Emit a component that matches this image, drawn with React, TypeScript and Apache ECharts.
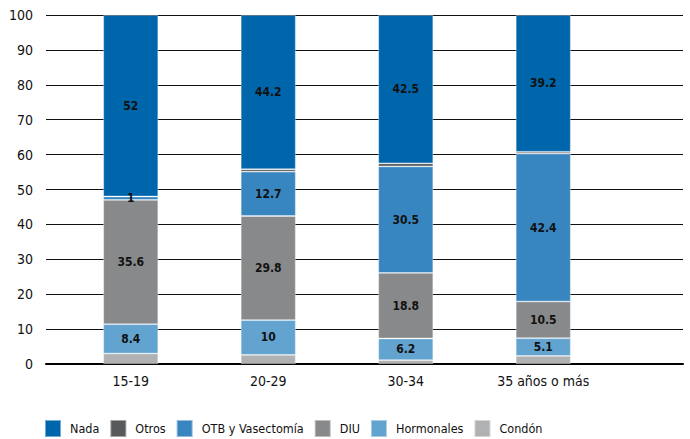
import React, { useEffect, useRef } from "react";
import * as echarts from "echarts";

const categories = ["15-19", "20-29", "30-34", "35 años o más"];
const yTicks = { min: 0, max: 100, interval: 10 };

const nada = [52, 44.2, 42.5, 39.2];
const otros = [0, 0.7, 0.9, 0.5];
const otb = [1, 12.7, 30.5, 42.4];
const diu = [35.6, 29.8, 18.8, 10.5];
const hormonales = [8.4, 10, 6.2, 5.1];
const condon = [3.0, 2.6, 1.1, 2.3];

const legendOrder = ["Nada", "Otros", "OTB y Vasectomía", "DIU", "Hormonales", "Condón"];

const FONT = "'DejaVu Sans Condensed', 'Liberation Sans Narrow', sans-serif";

export default function App() {
  const ref = useRef<HTMLDivElement>(null);

  useEffect(() => {
    if (!ref.current) return;
    const chart = echarts.init(ref.current, null, { renderer: "svg" });

    const mk = (name: string, data: number[], color: string, showLabel: boolean) => ({
      name,
      type: "bar",
      stack: "total",
      data,
      xAxisIndex: 0,
      yAxisIndex: 0,
      barWidth: 55,
      itemStyle: { color, borderColor: "rgba(255,255,255,0.45)", borderWidth: 0.8 },
      label: {
        show: showLabel,
        position: "inside",
        color: "#111",
        fontFamily: FONT,
        fontWeight: "bold",
        fontSize: 12,
        formatter: (p: any) => String(p.value),
      },
      emphasis: { disabled: true },
    });

    chart.setOption({
      animation: false,
      textStyle: { fontFamily: FONT },
      grid: [
        { left: 62, right: 78, top: 15, bottom: 75 },
        { left: 46, right: 7, top: 15, bottom: 75 },
      ],
      xAxis: [
        {
          type: "category",
          gridIndex: 0,
          data: categories,
          axisLine: { show: false },
          axisTick: { show: false },
          axisLabel: { color: "#111", fontSize: 14, fontFamily: FONT, margin: 10 },
        },
        {
          type: "value",
          gridIndex: 1,
          min: 0,
          max: 1,
          axisLine: { show: true, onZero: false, lineStyle: { color: "#000", width: 2 } },
          axisTick: { show: false },
          axisLabel: { show: false },
          splitLine: { show: false },
        },
      ],
      yAxis: [
        {
          type: "value",
          gridIndex: 0,
          ...yTicks,
          axisLine: { show: false },
          axisTick: { show: false },
          axisLabel: { show: false },
          splitLine: { show: false },
        },
        {
          type: "value",
          gridIndex: 1,
          ...yTicks,
          axisLine: { show: false },
          axisTick: { show: false },
          axisLabel: { color: "#111", fontSize: 14, fontFamily: FONT, margin: 13 },
          splitLine: { show: true, lineStyle: { color: "#111", width: 1 } },
          z: 0,
        },
      ],
      legend: {
        data: legendOrder,
        left: 44,
        top: 419,
        padding: 0,
        itemWidth: 16,
        itemHeight: 17,
        itemGap: 10,
        icon: "rect",
        textStyle: { color: "#111", fontSize: 12.5, fontFamily: FONT, padding: [0, 0, 0, 4] },
      },
      series: [
        mk("Condón", condon, "#B0B1B3", false),
        mk("Hormonales", hormonales, "#63A3D0", true),
        mk("DIU", diu, "#88898B", true),
        mk("OTB y Vasectomía", otb, "#3886C0", true),
        mk("Otros", otros, "#58595B", false),
        mk("Nada", nada, "#0066AC", true),
      ],
    });

    return () => chart.dispose();
  }, []);

  return (
    <div
      ref={ref}
      style={{ position: "fixed", left: 0, top: 0, width: 690, height: 439, background: "#fff" }}
    />
  );
}
